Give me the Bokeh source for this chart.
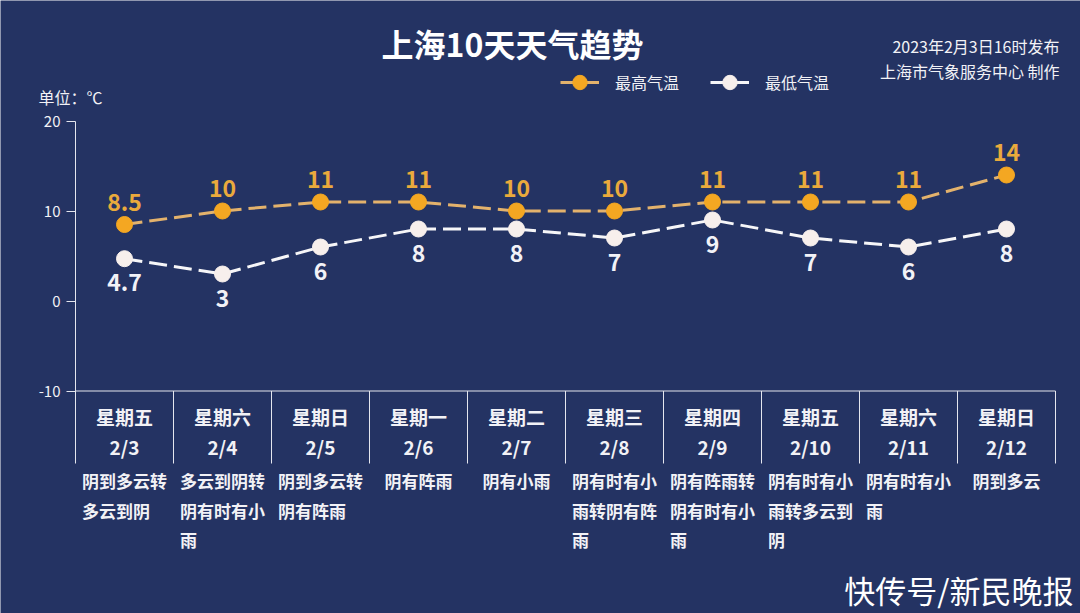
from bokeh.plotting import figure
from bokeh.models import Range1d, FixedTicker, Legend, LegendItem
from bokeh.core.properties import value
from bokeh.embed import file_html
from bokeh.resources import INLINE

# ---------------- data ----------------
weekdays = ["星期五", "星期六", "星期日", "星期一", "星期二",
            "星期三", "星期四", "星期五", "星期六", "星期日"]
dates = ["2/3", "2/4", "2/5", "2/6", "2/7", "2/8", "2/9", "2/10", "2/11", "2/12"]
weather = ["阴到多云转多云到阴", "多云到阴转阴有时有小雨", "阴到多云转阴有阵雨",
           "阴有阵雨", "阴有小雨", "阴有时有小雨转阴有阵雨", "阴有阵雨转阴有时有小雨",
           "阴有时有小雨转多云到阴", "阴有时有小雨", "阴到多云"]
high = [8.5, 10, 11, 11, 10, 10, 11, 11, 11, 14]
low = [4.7, 3, 6, 8, 8, 7, 9, 7, 6, 8]
y_ticks = [-10, 0, 10, 20]
y_tick_labels = ["-10", "0", "10", "20"]
series_names = ["最高气温", "最低气温"]
title_text = "上海10天天气趋势"
issue_text = "2023年2月3日16时发布"
maker_text = "上海市气象服务中心 制作"
unit_text = "单位：℃"
watermark_text = "快传号/新民晚报"

# ---------------- style ----------------
FONT = "Noto Sans CJK SC"
BG = "#243363"
TXT = "#f2f2f6"
AXIS = "#e4e6ee"
OR_MARK = "#f4a722"
OR_LINE = "#e3b26c"
OR_LAB = "#eaaa3c"
WH_MARK = "#f7efec"
WH_LINE = "#f6f6f8"
WH_LAB = "#f2f2f7"

W, H = 1080, 613
X_STEP = 98        # px per category
Y_STEP = 9         # px per degree
X0_PAGE = 124      # x of first category centre
Y20_PAGE = 120.5   # y of the top tick
AXIS_PAGE_X = 75


def dx(px_x):
    return (px_x - X0_PAGE) / X_STEP


def dy(px_y):
    return y_ticks[-1] - (px_y - Y20_PAGE) / Y_STEP


def dpx(px):
    return px / X_STEP


xs = list(range(len(dates)))

p = figure(width=W, height=H, output_backend="svg", toolbar_location=None,
           x_range=Range1d(dx(0), dx(W)),
           y_range=Range1d(dy(H), dy(0)),
           x_axis_location=None, y_axis_location="left",
           min_border=0, min_border_left=0, min_border_right=0,
           min_border_top=0, min_border_bottom=0)
p.background_fill_color = BG
p.border_fill_color = BG
p.outline_line_color = None
p.grid.visible = False

ax = p.yaxis[0]
ax.fixed_location = dx(AXIS_PAGE_X)
ax.ticker = FixedTicker(ticks=y_ticks)
ax.major_label_overrides = dict(zip(y_ticks, y_tick_labels))
ax.bounds = (y_ticks[0], y_ticks[-1])
ax.axis_line_color = AXIS
ax.axis_line_width = 1
ax.major_tick_line_color = AXIS
ax.major_tick_out = 9
ax.major_tick_in = 0
ax.minor_tick_out = 0
ax.minor_tick_in = 0
ax.major_label_text_color = TXT
ax.major_label_text_font = FONT
ax.major_label_text_font_size = "15px"
ax.major_label_standoff = 6

# x-axis line and category separators
p.segment(x0=[xs[0] - 0.5], y0=[y_ticks[0]], x1=[xs[-1] + 0.5], y1=[y_ticks[0]],
          line_color=AXIS, line_width=1)
sep_x = [i - 0.5 for i in range(len(dates) + 1)]
p.segment(x0=sep_x, y0=[y_ticks[0]] * len(sep_x), x1=sep_x, y1=[dy(463)] * len(sep_x),
          line_color=AXIS, line_width=1)

# series
lr_h = p.line(xs, high, line_color=OR_LINE, line_width=3, line_dash="18 7")
sr_h = p.scatter(xs, high, marker="circle", size=16, fill_color=OR_MARK, line_color=OR_MARK)
lr_l = p.line(xs, low, line_color=WH_LINE, line_width=3, line_dash="18 7")
sr_l = p.scatter(xs, low, marker="circle", size=16, fill_color=WH_MARK, line_color=WH_MARK)

# data labels
p.text(x=xs, y=[v + 22.5 / Y_STEP for v in high], text=[f"{v:g}" for v in high],
       text_font=value(FONT), text_font_size="23px", text_font_style="bold",
       text_color=OR_LAB, text_align="center", text_baseline="middle")
p.text(x=xs, y=[v - 24 / Y_STEP for v in low], text=[f"{v:g}" for v in low],
       text_font=value(FONT), text_font_size="23px", text_font_style="bold",
       text_color=WH_LAB, text_align="center", text_baseline="middle")

# category labels
p.text(x=xs, y=[dy(416)] * len(xs), text=weekdays,
       text_font=value(FONT), text_font_size="19px", text_font_style="bold",
       text_color=TXT, text_align="center", text_baseline="middle")
p.text(x=xs, y=[dy(446)] * len(xs), text=dates,
       text_font=value(FONT), text_font_size="19px", text_font_style="bold",
       text_color=TXT, text_align="center", text_baseline="middle")

# weather descriptions, wrapped at 5 characters, block centred, lines left aligned
CH = 17
line_y = [480, 509.5, 539]
dx_l, dy_l, dt_l = [], [], []
for i, w in enumerate(weather):
    lines = [w[k:k + 5] for k in range(0, len(w), 5)]
    n = max(len(s) for s in lines)
    for j, s in enumerate(lines):
        dx_l.append(xs[i] - dpx(n * CH / 2))
        dy_l.append(dy(line_y[j]))
        dt_l.append(s)
p.text(x=dx_l, y=dy_l, text=dt_l,
       text_font=value(FONT), text_font_size="17px", text_font_style="bold",
       text_color=TXT, text_align="left", text_baseline="middle")

# title & header texts
p.text(x=[dx(512)], y=[dy(42)], text=[title_text],
       text_font=value(FONT), text_font_size="32px", text_font_style="bold",
       text_color="#ffffff", text_align="center", text_baseline="middle")
p.text(x=[dx(1059), dx(1059)], y=[dy(45.5), dy(70.5)], text=[issue_text, maker_text],
       text_font=value(FONT), text_font_size="16px",
       text_color=TXT, text_align="right", text_baseline="middle")
p.text(x=[dx(38)], y=[dy(96)], text=[unit_text],
       text_font=value(FONT), text_font_size="16px",
       text_color=TXT, text_align="left", text_baseline="middle")
p.text(x=[dx(1073)], y=[dy(589)], text=[watermark_text],
       text_font=value(FONT), text_font_size="31px",
       text_color="#ffffff", text_align="right", text_baseline="middle")

legend = Legend(items=[LegendItem(label=series_names[0], renderers=[lr_h, sr_h]),
                       LegendItem(label=series_names[1], renderers=[lr_l, sr_l])],
                orientation="horizontal", location=(560, H - 100),
                glyph_width=39, glyph_height=36, label_height=36,
                label_standoff=16, spacing=31, padding=0, margin=0,
                background_fill_alpha=0, border_line_color=None,
                label_text_font=FONT, label_text_font_size="16px",
                label_text_color=TXT)
p.add_layout(legend)

open("out.html", "w").write(file_html(p, INLINE))
